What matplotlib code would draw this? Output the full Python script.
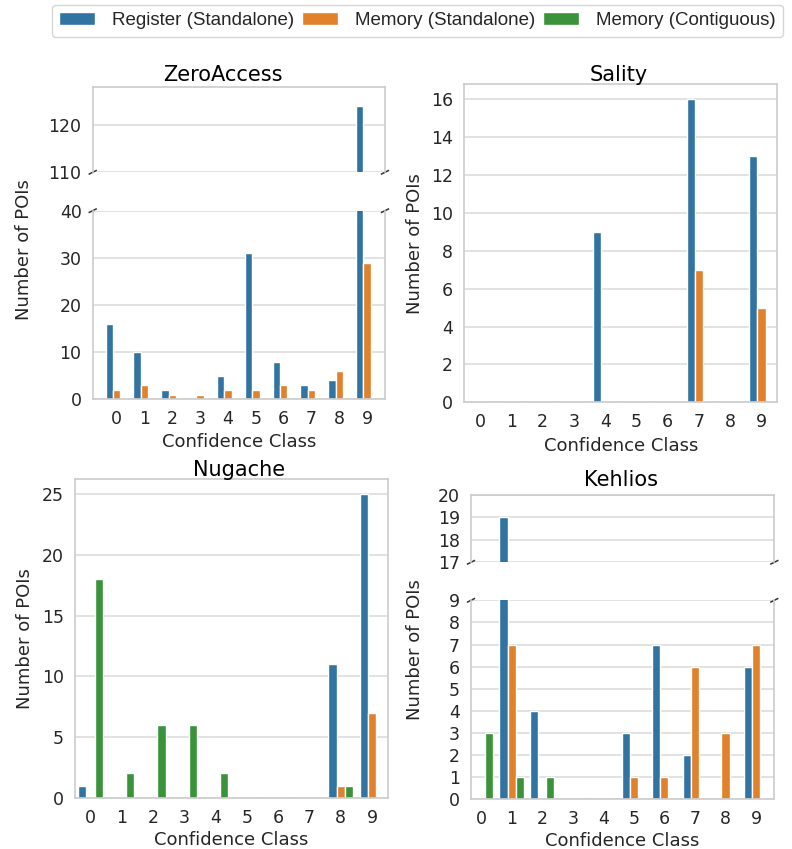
import matplotlib.pyplot as plt
import numpy as np

plt.rcParams["font.family"] = ["DejaVu Sans"]

# confidence classes on the x axis
classes = list(range(10))
series = ["Register (Standalone)", "Memory (Standalone)", "Memory (Contiguous)"]
colors = ["#3274a1", "#e1812c", "#3a923a"]

# values, one list per family and series
zeroaccess_reg = [16, 10, 2, 0, 5, 31, 8, 3, 4, 124]
zeroaccess_mem = [2, 3, 1, 1, 2, 2, 3, 2, 6, 29]
zeroaccess_con = [0, 0, 0, 0, 0, 0, 0, 0, 0, 0]

sality_reg = [0, 0, 0, 0, 9, 0, 0, 16, 0, 13]
sality_mem = [0, 0, 0, 0, 0, 0, 0, 7, 0, 5]
sality_con = [0, 0, 0, 0, 0, 0, 0, 0, 0, 0]

nugache_reg = [1, 0, 0, 0, 0, 0, 0, 0, 11, 25]
nugache_mem = [0, 0, 0, 0, 0, 0, 0, 0, 1, 7]
nugache_con = [18, 2, 6, 6, 2, 0, 0, 0, 1, 0]

kehlios_reg = [0, 19, 4, 0, 0, 3, 7, 2, 0, 6]
kehlios_mem = [0, 7, 0, 0, 0, 1, 1, 6, 3, 7]
kehlios_con = [3, 1, 1, 0, 0, 0, 0, 0, 0, 0]

W, H = 792, 849
TEXT = "#262626"
LIGHT = "#cccccc"

fig = plt.figure(figsize=(W / 100, H / 100), dpi=100)


def px_axes(left, top, right, bottom):
    # axes from pixel box
    return fig.add_axes([left / W, 1 - bottom / H, (right - left) / W, (bottom - top) / H])


def draw_bars(ax, values_list):
    x = np.arange(len(classes))
    w = 0.8 / 3
    bars = []
    for i, vals in enumerate(values_list):
        b = ax.bar(x + (i - 1) * w, vals, width=w, color=colors[i],
                   edgecolor="white", linewidth=1, label=series[i])
        bars.append(b)
    return bars


def style_axis(ax, xlim, ylim, yticks, show_x=True):
    ax.set_axisbelow(True)
    ax.set_xlim(*xlim)
    ax.set_ylim(*ylim)
    ax.set_yticks(yticks)
    ax.set_xticks(classes)
    ax.grid(axis="y", color="#dddddd", linewidth=1.2)
    for s in ax.spines.values():
        s.set_color(LIGHT)
        s.set_linewidth(1.2)
    ax.tick_params(length=0, pad=8, labelsize=12.5, labelcolor=TEXT)
    if not show_x:
        ax.tick_params(labelbottom=False)


def break_marks(ax, yfrac):
    # small diagonal marks at the break, size in pixels
    bb = ax.get_position()
    dx = 3.4 / (bb.width * W)
    dy = 1.7 / (bb.height * H)
    kw = dict(transform=ax.transAxes, color="#333333", lw=1.1, clip_on=False)
    for xf in (0, 1):
        ax.plot([xf - dx, xf + dx], [yfrac - dy, yfrac + dy], **kw)


def labels(title, tpos, xpos, ypos):
    fig.text(tpos[0] / W, 1 - tpos[1] / H, title, ha="center", va="baseline",
             fontsize=15, color="black")
    fig.text(xpos[0] / W, 1 - xpos[1] / H, "Confidence Class", ha="center",
             va="baseline", fontsize=13, color=TEXT)
    fig.text(ypos[0] / W, 1 - ypos[1] / H, "Number of POIs", ha="center",
             va="center", rotation=90, fontsize=13, color=TEXT)


# ZeroAccess (broken y axis)
za_top = px_axes(92.7, 86.7, 385, 172.3)
za_bot = px_axes(92.7, 210.7, 385, 399.3)
for ax in (za_top, za_bot):
    draw_bars(ax, [zeroaccess_reg, zeroaccess_mem, zeroaccess_con])
style_axis(za_top, (-0.86, 9.64), (110, 128.1), [110, 120], show_x=False)
style_axis(za_bot, (-0.86, 9.64), (0, 40), [0, 10, 20, 30, 40])
za_top.spines["bottom"].set_visible(False)
za_bot.spines["top"].set_visible(False)
break_marks(za_top, 0)
break_marks(za_bot, 1)
labels("ZeroAccess", (222.5, 80.7), (238.8, 446.7), (24.5, 249.5))

# Sality
sa = px_axes(464.3, 84.3, 777.3, 402.3)
draw_bars(sa, [sality_reg, sality_mem, sality_con])
style_axis(sa, (-0.5, 9.5), (0, 16.8), list(range(0, 17, 2)))
labels("Sality", (619.2, 80.7), (620.8, 450.7), (415.3, 243.3))

# Nugache
nu = px_axes(75, 479.3, 387.7, 797.7)
handles = draw_bars(nu, [nugache_reg, nugache_mem, nugache_con])
style_axis(nu, (-0.5, 9.5), (0, 26.25), [0, 5, 10, 15, 20, 25])
labels("Nugache", (239.2, 476), (230.8, 845), (25.3, 638.8))

# Kehlios (broken y axis)
ke_top = px_axes(471, 495, 774.3, 562.3)
ke_bot = px_axes(471, 600.3, 774.3, 799.3)
for ax in (ke_top, ke_bot):
    draw_bars(ax, [kehlios_reg, kehlios_mem, kehlios_con])
style_axis(ke_top, (-0.33, 9.6), (17, 20), [17, 18, 19, 20], show_x=False)
style_axis(ke_bot, (-0.33, 9.6), (0, 9), list(range(10)))
ke_top.spines["bottom"].set_visible(False)
ke_bot.spines["top"].set_visible(False)
break_marks(ke_top, 0)
break_marks(ke_bot, 1)
labels("Kehlios", (621.2, 485.7), (622.5, 846), (415, 649.2))

leg = fig.legend(handles, series, loc="upper left",
                 bbox_to_anchor=(51.7 / W, 1 - 4.7 / H), ncol=3,
                 prop={"family": "Liberation Sans", "size": 13.5},
                 handlelength=1.92, handletextpad=0.89, columnspacing=0.43,
                 frameon=True, fancybox=True, edgecolor=LIGHT, borderaxespad=0)
for t in leg.get_texts():
    t.set_color(TEXT)

fig.savefig("out.png", dpi=100)
